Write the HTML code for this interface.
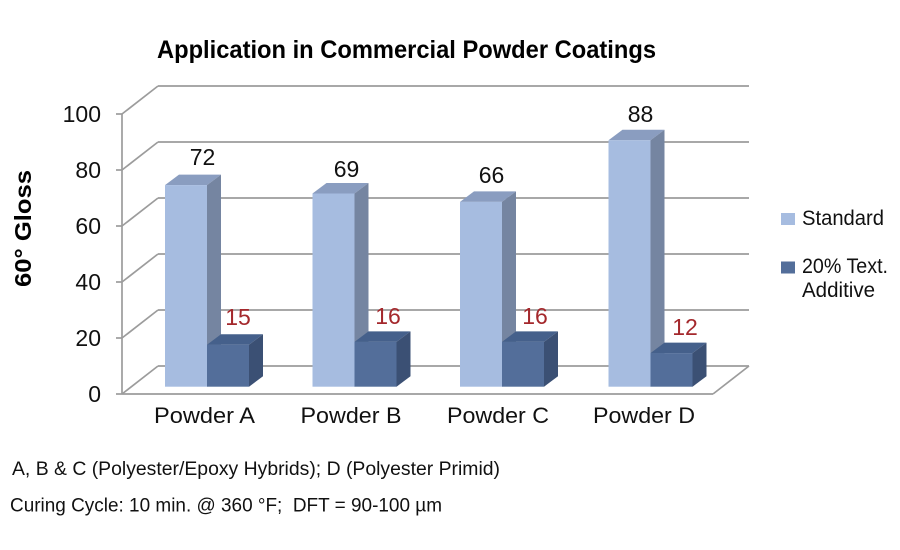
<!DOCTYPE html>
<html><head><meta charset="utf-8"><style>
html,body{margin:0;padding:0;background:#fff;}
svg{display:block;}
text{font-family:"Liberation Sans",Arial,sans-serif;}
</style></head><body>
<svg width="900" height="550" viewBox="0 0 900 550" xmlns="http://www.w3.org/2000/svg">
<rect width="900" height="550" fill="#fff"/>
<!-- title -->
<text x="157" y="58" font-size="25" font-weight="bold" fill="#000" textLength="499" lengthAdjust="spacingAndGlyphs">Application in Commercial Powder Coatings</text>
<!-- y axis title -->
<text transform="translate(31,287) rotate(-90)" x="0" y="0" font-size="23" font-weight="bold" fill="#000" textLength="117" lengthAdjust="spacingAndGlyphs">60° Gloss</text>

<g stroke="#9c9c9c" stroke-width="1.7" fill="none">
  <!-- back wall gridlines -->
  <line x1="158" y1="86" x2="749" y2="86"/>
  <line x1="158" y1="142" x2="749" y2="142"/>
  <line x1="158" y1="198" x2="749" y2="198"/>
  <line x1="158" y1="254" x2="749" y2="254"/>
  <line x1="158" y1="310" x2="749" y2="310"/>
  <line x1="158" y1="366" x2="749" y2="366"/>
  <!-- left wall diagonals -->
  <line x1="122" y1="114" x2="158" y2="86"/>
  <line x1="122" y1="170" x2="158" y2="142"/>
  <line x1="122" y1="226" x2="158" y2="198"/>
  <line x1="122" y1="282" x2="158" y2="254"/>
  <line x1="122" y1="338" x2="158" y2="310"/>
  <line x1="122" y1="394" x2="158" y2="366"/>
  <!-- floor -->
  <line x1="122" y1="394" x2="713" y2="394"/>
  <line x1="713" y1="394" x2="749" y2="366"/>
  <!-- axis -->
  <line x1="122" y1="113.5" x2="122" y2="394"/>
  <line x1="116" y1="114" x2="122" y2="114"/>
  <line x1="116" y1="170" x2="122" y2="170"/>
  <line x1="116" y1="226" x2="122" y2="226"/>
  <line x1="116" y1="282" x2="122" y2="282"/>
  <line x1="116" y1="338" x2="122" y2="338"/>
  <line x1="116" y1="394" x2="122" y2="394"/>
</g>

<!-- y tick labels -->
<g font-size="23" fill="#111" text-anchor="end">
  <text x="101" y="122">100</text>
  <text x="101" y="178">80</text>
  <text x="101" y="234">60</text>
  <text x="101" y="290">40</text>
  <text x="101" y="346">20</text>
  <text x="101" y="402">0</text>
</g>

<!-- Powder A (L=165) -->
<g>
  <polygon points="165,185.1 179,174.6 221,174.6 207,185.1" fill="#8a9dc0"/>
  <polygon points="207,185.1 221,174.6 221,376.2 207,386.7" fill="#7585a1"/>
  <rect x="165" y="185.1" width="42" height="201.6" fill="#a6bce0"/>
  <polygon points="207,344.7 221,334.2 263,334.2 249,344.7" fill="#45608b"/>
  <polygon points="249,344.7 263,334.2 263,376.2 249,386.7" fill="#3b5074"/>
  <rect x="207" y="344.7" width="42" height="42" fill="#536e9a"/>
</g>
<!-- Powder B (L=312.5) -->
<g>
  <polygon points="312.5,193.5 326.5,183 368.5,183 354.5,193.5" fill="#8a9dc0"/>
  <polygon points="354.5,193.5 368.5,183 368.5,376.2 354.5,386.7" fill="#7585a1"/>
  <rect x="312.5" y="193.5" width="42" height="193.2" fill="#a6bce0"/>
  <polygon points="354.5,341.9 368.5,331.4 410.5,331.4 396.5,341.9" fill="#45608b"/>
  <polygon points="396.5,341.9 410.5,331.4 410.5,376.2 396.5,386.7" fill="#3b5074"/>
  <rect x="354.5" y="341.9" width="42" height="44.8" fill="#536e9a"/>
</g>
<!-- Powder C (L=460) -->
<g>
  <polygon points="460,201.9 474,191.4 516,191.4 502,201.9" fill="#8a9dc0"/>
  <polygon points="502,201.9 516,191.4 516,376.2 502,386.7" fill="#7585a1"/>
  <rect x="460" y="201.9" width="42" height="184.8" fill="#a6bce0"/>
  <polygon points="502,341.9 516,331.4 558,331.4 544,341.9" fill="#45608b"/>
  <polygon points="544,341.9 558,331.4 558,376.2 544,386.7" fill="#3b5074"/>
  <rect x="502" y="341.9" width="42" height="44.8" fill="#536e9a"/>
</g>
<!-- Powder D (L=608.5) -->
<g>
  <polygon points="608.5,140.3 622.5,129.8 664.5,129.8 650.5,140.3" fill="#8a9dc0"/>
  <polygon points="650.5,140.3 664.5,129.8 664.5,376.2 650.5,386.7" fill="#7585a1"/>
  <rect x="608.5" y="140.3" width="42" height="246.4" fill="#a6bce0"/>
  <polygon points="650.5,353.1 664.5,342.6 706.5,342.6 692.5,353.1" fill="#45608b"/>
  <polygon points="692.5,353.1 706.5,342.6 706.5,376.2 692.5,386.7" fill="#3b5074"/>
  <rect x="650.5" y="353.1" width="42" height="33.6" fill="#536e9a"/>
</g>

<!-- value labels -->
<g font-size="23" fill="#111" text-anchor="middle">
  <text x="202.5" y="165">72</text>
  <text x="346.5" y="177">69</text>
  <text x="491.5" y="183">66</text>
  <text x="640.5" y="122">88</text>
</g>
<g font-size="23" fill="#a4282c" text-anchor="middle">
  <text x="238" y="325">15</text>
  <text x="388" y="324">16</text>
  <text x="535" y="324">16</text>
  <text x="685" y="335">12</text>
</g>

<!-- category labels -->
<g font-size="22" fill="#111" text-anchor="middle">
  <text x="204.5" y="423" textLength="101" lengthAdjust="spacingAndGlyphs">Powder A</text>
  <text x="351" y="423" textLength="101" lengthAdjust="spacingAndGlyphs">Powder B</text>
  <text x="498" y="423" textLength="102" lengthAdjust="spacingAndGlyphs">Powder C</text>
  <text x="644" y="423" textLength="102" lengthAdjust="spacingAndGlyphs">Powder D</text>
</g>

<!-- legend -->
<rect x="781" y="213" width="14" height="12" fill="#a6bce0"/>
<rect x="781" y="261.5" width="14" height="12" fill="#536e9a"/>
<g font-size="21" fill="#111">
  <text x="802" y="225" textLength="82" lengthAdjust="spacingAndGlyphs">Standard</text>
  <text x="802" y="273" textLength="86" lengthAdjust="spacingAndGlyphs">20% Text.</text>
  <text x="802" y="297" textLength="73" lengthAdjust="spacingAndGlyphs">Additive</text>
</g>

<!-- footnotes -->
<g font-size="19" fill="#111">
  <text x="12" y="475" textLength="488" lengthAdjust="spacingAndGlyphs">A, B &amp; C (Polyester/Epoxy Hybrids); D (Polyester Primid)</text>
  <text x="10" y="511.5" textLength="432" lengthAdjust="spacingAndGlyphs" xml:space="preserve">Curing Cycle: 10 min. @ 360 °F;  DFT = 90-100 µm</text>
</g>
</svg>
</body></html>
